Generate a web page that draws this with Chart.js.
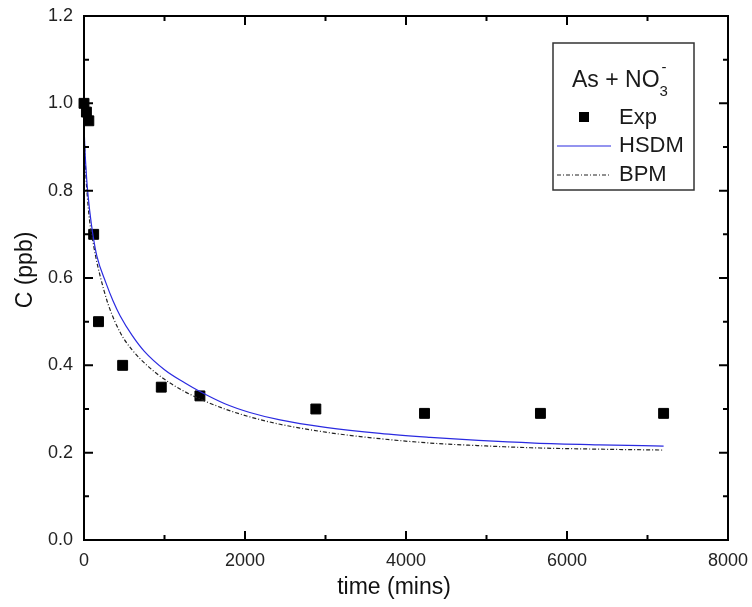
<!DOCTYPE html>
<html>
<head>
<meta charset="UTF-8">
<title>As + NO3- breakthrough</title>
<script src="https://cdn.jsdelivr.net/npm/chart.js"></script>
<style>
    html, body { margin: 0; padding: 0; background: #fff; }
    #wrap { width: 752px; height: 607px; }
</style>
</head>
<body>
<div id="wrap"><canvas id="graph" width="752" height="607"></canvas></div>
<script>
    // experimental points
    const expTime = [0, 30, 60, 120, 180, 480, 960, 1440, 2880, 4230, 5670, 7200];
    const expConc = [1.0, 0.98, 0.96, 0.70, 0.50, 0.40, 0.35, 0.33, 0.30, 0.29, 0.29, 0.29];

    // HSDM model curve
    const hsdmTime = [0, 10, 25, 40, 70, 110, 160, 270, 360, 450, 600, 750, 1000, 1250, 1440, 1750, 2060, 2435, 3000, 3677, 4300, 4900, 5600, 6400, 7200];
    const hsdmConc = [0.95, 0.90, 0.85, 0.81, 0.755, 0.70, 0.65, 0.59, 0.548, 0.513, 0.468, 0.432, 0.39, 0.36, 0.34, 0.312, 0.292, 0.275, 0.258, 0.244, 0.235, 0.228, 0.222, 0.218, 0.215];

    // BPM model curve
    const bpmTime = [0, 10, 25, 40, 70, 100, 150, 200, 300, 450, 600, 800, 1000, 1250, 1440, 1750, 2060, 2435, 3000, 3677, 4300, 4919, 5600, 6400, 7200];
    const bpmConc = [0.94, 0.89, 0.83, 0.79, 0.73, 0.695, 0.645, 0.605, 0.54, 0.475, 0.435, 0.397, 0.368, 0.34, 0.323, 0.30, 0.282, 0.265, 0.247, 0.232, 0.222, 0.216, 0.211, 0.208, 0.206];

    const xTicks = [0, 2000, 4000, 6000, 8000];
    const yTicks = [0.0, 0.2, 0.4, 0.6, 0.8, 1.0, 1.2];

    const FONT = "'Liberation Sans', Arial, sans-serif";

    function pts(xs, ys) {
        return xs.map((x, i) => ({ x: x, y: ys[i] }));
    }

    // inward ticks on all four sides + frame + axis titles
    const frame = {
        id: 'frame',
        afterDatasetsDraw(chart) {
            const ctx = chart.ctx;
            const a = chart.chartArea;
            const xs = chart.scales.x, ys = chart.scales.y;
            ctx.save();
            ctx.strokeStyle = '#000';
            ctx.lineWidth = 2;
            ctx.strokeRect(a.left, a.top, a.right - a.left, a.bottom - a.top);
            ctx.beginPath();
            for (let v = 0; v <= 8000; v += 1000) {
                const p = xs.getPixelForValue(v);
                const len = (v % 2000 === 0) ? 9 : 5;
                ctx.moveTo(p, a.bottom); ctx.lineTo(p, a.bottom - len);
                ctx.moveTo(p, a.top); ctx.lineTo(p, a.top + len);
            }
            for (let i = 0; i <= 12; i++) {
                const p = ys.getPixelForValue(i / 10);
                const len = (i % 2 === 0) ? 9 : 5;
                ctx.moveTo(a.left, p); ctx.lineTo(a.left + len, p);
                ctx.moveTo(a.right, p); ctx.lineTo(a.right - len, p);
            }
            ctx.stroke();

            // axis titles (origin-style placement, a bit off-centre)
            ctx.fillStyle = '#111';
            ctx.font = '23px ' + FONT;
            ctx.textAlign = 'center';
            ctx.textBaseline = 'middle';
            ctx.fillText('time (mins)', 394, 588);
            ctx.translate(26, 270);
            ctx.rotate(-Math.PI / 2);
            ctx.fillText('C (ppb)', 0, 0);
            ctx.restore();
        }
    };

    // boxed legend with formula title
    const boxLegend = {
        id: 'boxLegend',
        afterDraw(chart) {
            const ctx = chart.ctx;
            const L = 553, T = 43, W = 141, H = 147;
            ctx.save();
            ctx.fillStyle = '#fff';
            ctx.fillRect(L, T, W, H);
            ctx.strokeStyle = '#333';
            ctx.lineWidth = 1.5;
            ctx.strokeRect(L, T, W, H);

            ctx.fillStyle = '#1a1a1a';
            ctx.textBaseline = 'alphabetic';
            ctx.font = '23px ' + FONT;
            ctx.textAlign = 'left';
            ctx.fillText('As + NO', 572, 87);
            let w = ctx.measureText('As + NO').width;
            ctx.font = '15px ' + FONT;
            ctx.fillText('3', 572 + w, 96);
            ctx.fillText('-', 572 + w + 2, 72);

            ctx.font = '22px ' + FONT;
            ctx.textBaseline = 'middle';
            ctx.fillText('Exp', 619, 118);
            ctx.fillText('HSDM', 619, 146);
            ctx.fillText('BPM', 619, 175);

            ctx.fillStyle = '#000';
            ctx.fillRect(579, 112, 10, 10);

            ctx.strokeStyle = '#2a2ae0';
            ctx.lineWidth = 1.2;
            ctx.beginPath(); ctx.moveTo(557, 146); ctx.lineTo(611, 146); ctx.stroke();

            ctx.strokeStyle = '#222';
            ctx.setLineDash([4, 2, 1, 2]);
            ctx.beginPath(); ctx.moveTo(557, 175); ctx.lineTo(611, 175); ctx.stroke();
            ctx.restore();
        }
    };

    window.onload = function () {
        const ctx = document.getElementById('graph').getContext('2d');
        new Chart(ctx, {
            type: 'scatter',
            data: {
                datasets: [
                    {
                        label: 'HSDM',
                        data: pts(hsdmTime, hsdmConc),
                        showLine: true,
                        borderColor: '#2a2ae0',
                        borderWidth: 1.2,
                        pointRadius: 0,
                        cubicInterpolationMode: 'monotone'
                    },
                    {
                        label: 'BPM',
                        data: pts(bpmTime, bpmConc),
                        showLine: true,
                        borderColor: '#222',
                        borderWidth: 1.2,
                        borderDash: [4, 2, 1, 2],
                        pointRadius: 0,
                        cubicInterpolationMode: 'monotone'
                    },
                    {
                        label: 'Exp',
                        data: pts(expTime, expConc),
                        pointStyle: 'rect',
                        pointRadius: 7,
                        backgroundColor: '#000',
                        borderColor: '#000',
                        borderWidth: 1,
                        clip: false
                    }
                ]
            },
            options: {
                responsive: false,
                animation: false,
                layout: { padding: { top: 16, right: 24, left: 0, bottom: 0 } },
                plugins: { legend: { display: false }, tooltip: { enabled: false } },
                scales: {
                    x: {
                        type: 'linear',
                        min: 0, max: 8000,
                        afterBuildTicks: s => { s.ticks = xTicks.map(v => ({ value: v })); },
                        afterFit: s => { s.height = 67; s.paddingLeft = 0; s.paddingRight = 0; },
                        grid: { display: false, drawTicks: false },
                        border: { display: false },
                        ticks: { color: '#222', font: { family: FONT, size: 18 }, padding: 10, maxRotation: 0, callback: v => String(v) },
                        title: { display: false }
                    },
                    y: {
                        type: 'linear',
                        min: 0, max: 1.2,
                        afterBuildTicks: s => { s.ticks = yTicks.map(v => ({ value: v })); },
                        afterFit: s => { s.width = 84; s.paddingTop = 0; s.paddingBottom = 0; },
                        grid: { display: false, drawTicks: false },
                        border: { display: false },
                        ticks: { color: '#222', font: { family: FONT, size: 18 }, padding: 11, callback: v => v.toFixed(1) },
                        title: { display: false }
                    }
                }
            },
            plugins: [frame, boxLegend]
        });
    };
</script>
</body>
</html>
